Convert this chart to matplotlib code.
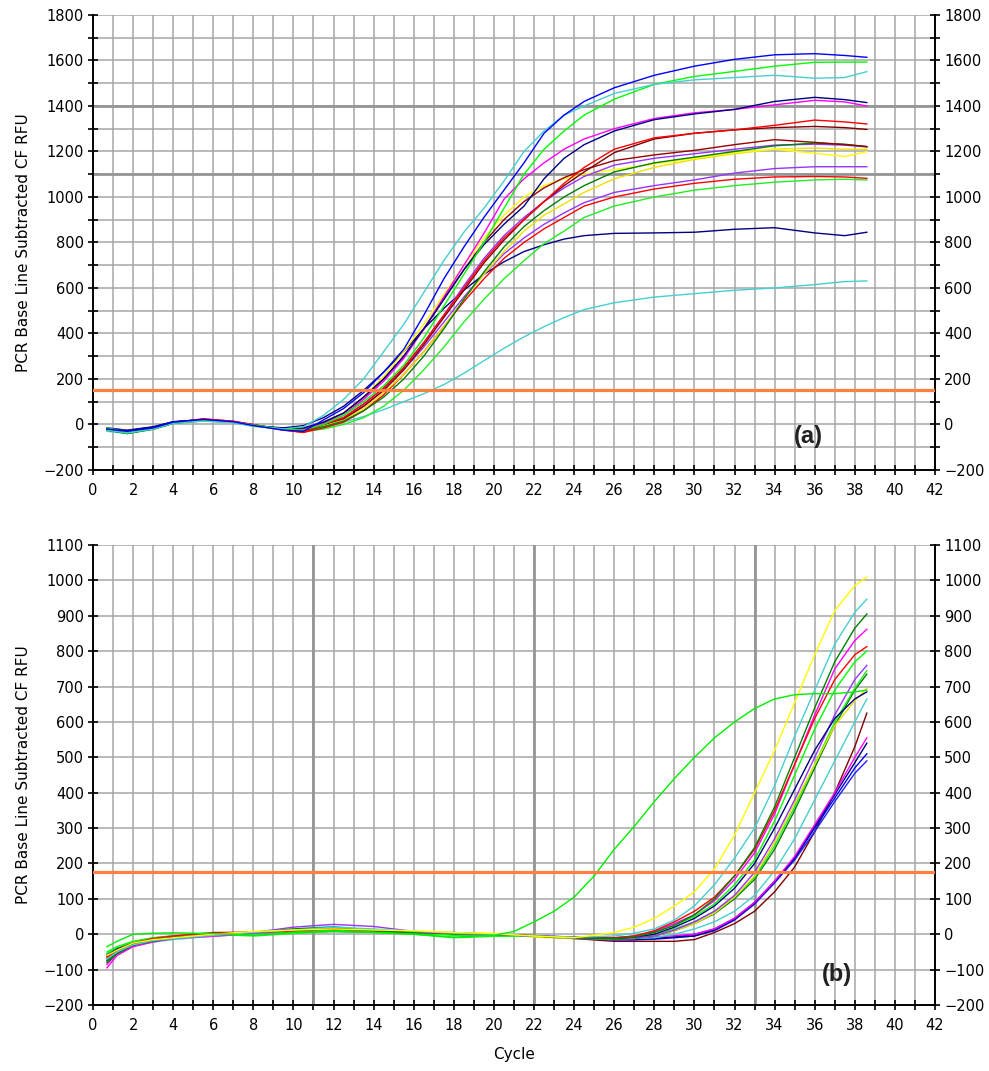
import matplotlib
matplotlib.use("Agg")
import matplotlib.pyplot as plt

# ---------------- Panel (a) data ----------------
cycles_a = [0.7, 1.7, 3, 4, 5.5, 7, 8, 9.5, 10.5, 11.5, 12.5, 13.5, 14.5, 15.5, 16.5,
            17.5, 18.5, 19.5, 20.5, 21.5, 22.5, 23.5, 24.5, 26, 28, 30, 32, 34, 36, 37.5, 38.6]

a_blue = [-20, -30, -15, 10, 22, 12, -5, -25, -30,
          20, 70, 140, 230, 330, 480, 640, 780, 910, 1030, 1150, 1280, 1360, 1420, 1480, 1535, 1575, 1605, 1625, 1630, 1622, 1614]
a_cyan = [-25, -38, -20, 5, 15, 8, -8, -20, -10,
          40, 110, 200, 320, 440, 580, 720, 845, 950, 1070, 1200, 1290, 1360, 1400, 1455, 1495, 1515, 1525, 1535, 1522, 1525, 1551]
a_lime = [-15, -35, -18, 8, 18, 10, -3, -20, -25,
          0, 40, 100, 170, 260, 380, 520, 660, 800, 950, 1100, 1210, 1290, 1360, 1430, 1495, 1530, 1552, 1575, 1592, 1593, 1593]
a_navy = [-18, -28, -12, 12, 20, 10, -5, -18, -15,
          10, 50, 120, 200, 300, 420, 550, 680, 790, 880, 960, 1080, 1170, 1230, 1290, 1340, 1365, 1385, 1420, 1438, 1428, 1415]
a_magenta = [-20, -30, -15, 10, 20, 12, -3, -20, -22,
             5, 40, 110, 190, 290, 420, 560, 700, 840, 990, 1080, 1150, 1210, 1255, 1300, 1345, 1370, 1385, 1405, 1425, 1418, 1400]
a_red = [-22, -35, -18, 8, 25, 14, -2, -25, -35,
         0, 30, 90, 160, 250, 360, 480, 600, 720, 820, 900, 980, 1060, 1130, 1210, 1260, 1280, 1295, 1315, 1338, 1330, 1321]
a_maroon = [-20, -32, -16, 10, 22, 12, -4, -22, -28,
            0, 25, 80, 150, 240, 350, 470, 590, 710, 810, 900, 980, 1050, 1110, 1195, 1255, 1280, 1295, 1305, 1310, 1305, 1297]
a_darkred = [-18, -30, -15, 10, 20, 10, -5, -20, -20,
             10, 50, 120, 200, 300, 420, 550, 680, 800, 900, 980, 1040, 1085, 1120, 1160, 1185, 1205, 1230, 1252, 1240, 1230, 1222]
a_green = [-25, -40, -20, 5, 18, 12, -2, -20, -30,
           -10, 15, 60, 120, 200, 300, 420, 550, 670, 780, 870, 940, 1000, 1050, 1110, 1150, 1175, 1200, 1225, 1237, 1232, 1221]
a_purple = [-20, -32, -15, 10, 22, 12, -4, -22, -25,
            0, 30, 90, 160, 250, 360, 480, 610, 730, 830, 910, 980, 1040, 1090, 1140, 1170, 1190, 1210, 1228, 1232, 1228, 1220]
a_yellow = [-22, -30, -14, 10, 20, 10, -8, -20, -18,
            10, 50, 120, 210, 320, 440, 570, 700, 820, 920, 1000, 1050, 1080, 1100, 1120, 1145, 1170, 1195, 1210, 1192, 1178, 1199]
a_yellow2 = [-18, -28, -16, 8, 18, 12, -4, -22, -28,
             -5, 20, 70, 140, 220, 320, 430, 550, 660, 760, 850, 920, 970, 1020, 1080, 1130, 1165, 1190, 1210, 1215, 1210, 1210]
a_violet = [-20, -34, -16, 10, 22, 12, -3, -22, -26,
            0, 25, 80, 150, 240, 340, 450, 560, 660, 750, 820, 880, 930, 975, 1020, 1050, 1075, 1105, 1125, 1133, 1133, 1133]
a_red2 = [-25, -38, -20, 6, 24, 14, 0, -24, -35,
          -15, 10, 60, 130, 220, 320, 430, 540, 640, 730, 800, 860, 910, 960, 1000, 1035, 1060, 1078, 1088, 1090, 1088, 1082]
a_lime2 = [-22, -40, -22, 4, 16, 10, -2, -20, -32,
           -20, 0, 30, 80, 150, 240, 340, 450, 550, 640, 720, 795, 850, 910, 960, 1000, 1030, 1050, 1065, 1075, 1078, 1075]
a_navy2 = [-15, -25, -10, 12, 22, 10, -6, -15, -5,
           30, 80, 150, 230, 320, 420, 510, 590, 660, 715, 760, 790, 815, 830, 840, 842, 845, 858, 865, 842, 830, 845]
a_cyan2 = [-30, -40, -20, 5, 15, 8, -8, -20, -20,
           -10, 10, 35, 65, 100, 135, 175, 225, 280, 335, 385, 430, 470, 505, 535, 560, 575, 590, 600, 615, 628, 631]

series_a = [
    (a_cyan2, "#45cfd0"), (a_navy2, "#000080"), (a_lime2, "#22ee22"), (a_red2, "#ff0000"),
    (a_violet, "#9933ff"), (a_yellow2, "#f0e000"), (a_yellow, "#ffff00"), (a_purple, "#9933ff"),
    (a_green, "#008000"), (a_darkred, "#990000"), (a_maroon, "#800000"), (a_red, "#ff0000"),
    (a_magenta, "#ff00ff"), (a_navy, "#000080"), (a_lime, "#00ff00"), (a_cyan, "#45cfd0"),
    (a_blue, "#0000ff"),
]
threshold_a = 150

# ---------------- Panel (b) data ----------------
cycles_b = [0.7, 1.2, 2, 3, 4, 6, 8, 10, 12, 14, 16, 18, 20, 22, 24, 26, 27, 28, 29, 30,
            31, 32, 33, 34, 35, 36, 37, 38, 38.6]
cycles_b_early = [0.7, 1.2, 2, 3, 4, 6, 8, 10, 12, 14, 16, 18, 20, 21, 22, 23, 24, 25, 26, 27,
                  28, 29, 30, 31, 32, 33, 34, 35, 36, 37, 38, 38.6]

b_lime_early = [-35, -20, 0, 3, 4, 2, -3, 5, 8, 5, 0, -8, -3, 8, 35, 65, 105, 165, 240, 305,
                375, 440, 500, 555, 600, 638, 665, 677, 680, 680, 685, 690]
b_yellow = [-60, -45, -25, -15, -10, 0, 8, 12, 15, 12, 10, 5, 2, -5, -10, 5, 20, 45, 80, 120,
            185, 280, 400, 520, 655, 790, 915, 985, 1010]
b_cyan = [-70, -50, -30, -18, -12, -3, 5, 12, 20, 15, 8, 3, 0, -5, -8, -5, 3, 15, 40, 80,
          140, 215, 300, 420, 560, 690, 820, 910, 947]
b_green = [-75, -55, -30, -20, -10, 0, 5, 15, 20, 10, 5, 5, 0, -5, -10, -12, -8, 5, 25, 55,
           100, 165, 245, 360, 500, 640, 770, 865, 905]
b_red = [-65, -45, -25, -12, -5, 5, 6, 10, 15, 10, 5, 3, 0, -5, -10, -10, -5, 10, 35, 65,
         105, 165, 240, 350, 480, 610, 720, 790, 813]
b_magenta = [-95, -60, -35, -22, -12, -5, 3, 10, 18, 12, 5, 2, 0, -5, -8, -10, -5, 8, 30, 55,
             95, 155, 230, 340, 480, 620, 750, 830, 862]
b_lime2 = [-50, -35, -20, -10, -5, 0, 2, 8, 12, 8, 3, -3, -2, -5, -10, -10, -6, 5, 25, 50,
           85, 140, 210, 320, 450, 580, 690, 770, 800]
b_navy = [-60, -42, -25, -14, -8, 2, 4, 10, 14, 10, 6, 2, 0, -4, -8, -12, -8, 0, 20, 45,
          80, 130, 200, 300, 410, 520, 610, 665, 685]
b_purple = [-70, -48, -28, -15, -8, 0, 5, 20, 28, 22, 8, 3, 0, -5, -10, -12, -10, -5, 12, 35,
            65, 110, 175, 270, 380, 500, 620, 720, 760]
b_yellow2 = [-65, -45, -26, -14, -8, 2, 7, 12, 14, 10, 8, 4, 2, -8, -12, -12, -10, -5, 10, 30,
             60, 105, 165, 260, 370, 480, 590, 660, 695]
b_green3 = [-55, -40, -22, -10, -4, 0, -5, 2, 8, 5, 0, -10, -6, -5, -10, -12, -8, -2, 15, 35,
            65, 105, 160, 250, 360, 480, 600, 695, 745]
b_darkgreen2 = [-80, -55, -32, -20, -12, -2, 3, 8, 12, 8, 4, 0, -2, -6, -10, -14, -12, -6, 10, 30,
                58, 100, 155, 240, 350, 470, 590, 690, 735]
b_cyan2 = [-70, -50, -32, -22, -15, -5, 0, 15, 22, 12, 5, 0, -2, -6, -10, -14, -12, -10, 0, 15,
           35, 65, 110, 180, 270, 380, 490, 600, 665]
b_maroon = [-75, -52, -30, -18, -10, 0, 5, 10, 14, 10, 6, 2, 0, -6, -12, -20, -20, -20, -20, -15,
            5, 30, 65, 120, 190, 290, 400, 530, 625]
b_blue = [-55, -40, -24, -12, -8, 2, 6, 5, 10, 8, 4, 2, 0, -5, -10, -15, -15, -12, -8, 0,
          15, 45, 90, 150, 215, 300, 385, 470, 510]
b_blue2 = [-60, -44, -26, -15, -10, 0, 4, 6, 8, 6, 3, 0, -2, -6, -12, -16, -16, -14, -10, -5,
           10, 40, 85, 145, 210, 290, 375, 455, 490]
b_magenta2 = [-85, -55, -34, -20, -12, -6, 2, 8, 14, 10, 4, 0, -2, -6, -10, -14, -12, -8, -4, 0,
              15, 45, 90, 150, 220, 310, 400, 500, 555]
b_navy2 = [-62, -46, -28, -16, -10, 0, 4, 8, 12, 8, 5, 2, 0, -5, -10, -14, -14, -12, -8, -5,
           12, 42, 88, 148, 215, 305, 395, 485, 540]

series_b = [
    (b_maroon, "#800000"), (b_blue2, "#2020ff"), (b_blue, "#0000ff"), (b_navy2, "#000080"),
    (b_magenta2, "#ff00ff"), (b_cyan2, "#45cfd0"), (b_darkgreen2, "#008000"), (b_green3, "#22ee22"),
    (b_yellow2, "#e8e000"), (b_purple, "#9933ff"), (b_navy, "#000080"), (b_lime2, "#00ff00"),
    (b_magenta, "#ff00ff"), (b_red, "#ff0000"), (b_green, "#008000"), (b_cyan, "#45cfd0"),
    (b_yellow, "#ffff00"),
]
threshold_b = 175

y_label = "PCR Base Line Subtracted CF RFU"
x_label = "Cycle"
x_ticks = list(range(0, 43, 2))
ya_ticks = [-200, 0, 200, 400, 600, 800, 1000, 1200, 1400, 1600, 1800]
yb_ticks = [-200, -100, 0, 100, 200, 300, 400, 500, 600, 700, 800, 900, 1000, 1100]

# ---------------- Figure ----------------
plt.rcParams['font.family'] = ['DejaVu Sans']
fig = plt.figure(figsize=(9.89, 10.71), dpi=100)
axA = fig.add_axes([0.094, 0.5612, 0.8514, 0.4248])
axB = fig.add_axes([0.094, 0.0616, 0.8514, 0.4295])

GRID = "#a6a6a6"


def style(ax, ylim, yticks, yminor):
    ax.set_xlim(0, 42)
    ax.set_ylim(*ylim)
    ax.set_xticks(x_ticks)
    ax.set_xticks(range(0, 43), minor=True)
    ax.set_yticks(yticks)
    ax.set_yticks(yminor, minor=True)
    ax.grid(which='both', color=GRID, lw=1.1)
    ax.set_axisbelow(True)
    ax.spines['top'].set_visible(False)
    for s in ('left', 'right', 'bottom'):
        ax.spines[s].set_color('black')
        ax.spines[s].set_linewidth(1.4)
    ax.tick_params(axis='both', which='both', direction='inout', length=7, width=1.2,
                   colors='black', labelsize=10.5)
    ax.tick_params(axis='y', which='both', left=True, right=True, labelleft=True, labelright=True)
    ax.tick_params(axis='y', which='major', pad=3)
    ax.tick_params(axis='x', which='major', pad=6)


style(axA, (-200, 1800), ya_ticks, list(range(-200, 1801, 100)))
style(axB, (-200, 1100), yb_ticks, list(range(-200, 1101, 100)))

for v in (1400, 1100):
    axA.axhline(v, color="#959595", lw=2.0, zorder=1)
for v in (11, 22, 33):
    axB.axvline(v, color="#959595", lw=2.0, zorder=1)

for vals, col in series_a:
    axA.plot(cycles_a, vals, color=col, lw=1.0, zorder=3)
for vals, col in series_b:
    axB.plot(cycles_b, vals, color=col, lw=1.0, zorder=3)
axB.plot(cycles_b_early, b_lime_early, color="#00ee00", lw=1.0, zorder=3)

axA.axhline(threshold_a, color="#ff8040", lw=2.3, zorder=4)
axB.axhline(threshold_b, color="#ff8040", lw=2.3, zorder=4)

axA.text(35.7, -55, "(a)", fontsize=17, fontweight='bold', ha='center', va='center',
         family='Liberation Sans', color='#222222')
axB.text(37.1, -115, "(b)", fontsize=17, fontweight='bold', ha='center', va='center',
         family='Liberation Sans', color='#222222')

axA.set_ylabel(y_label, fontsize=11, labelpad=9)
axB.set_ylabel(y_label, fontsize=11, labelpad=9)
axB.set_xlabel(x_label, fontsize=11, labelpad=10)

fig.savefig("out.png", dpi=100)
